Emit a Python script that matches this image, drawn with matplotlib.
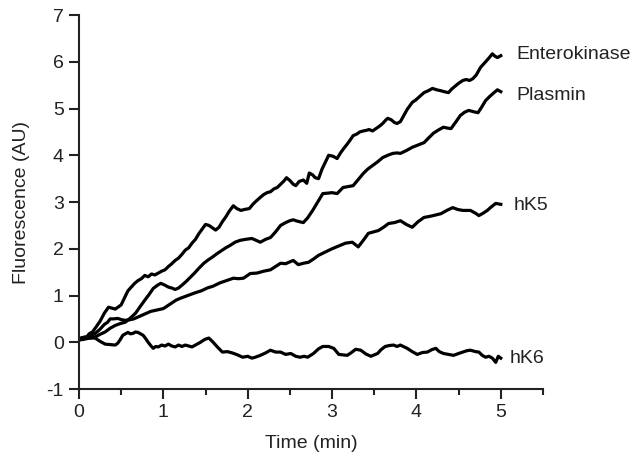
import matplotlib
matplotlib.use("Agg")
import matplotlib.pyplot as plt
from matplotlib.ticker import MultipleLocator

ek_t = [0.00,0.04,0.08,0.12,0.16,0.20,0.25,0.30,0.35,0.39,0.43,0.47,0.50,0.54,0.58,0.62,0.66,0.70,0.74,0.78,
        0.82,0.86,0.90,0.94,0.98,1.02,1.06,1.10,1.14,1.18,1.22,1.26,1.30,1.34,1.38,1.42,1.46,1.50,1.54,1.58,
        1.62,1.66,1.70,1.74,1.78,1.83,1.87,1.92,1.96,2.02,2.06,2.10,2.15,2.19,2.23,2.27,2.31,2.35,2.39,2.43,
        2.46,2.50,2.54,2.57,2.61,2.66,2.70,2.73,2.77,2.80,2.84,2.88,2.92,2.96,3.01,3.06,3.10,3.14,3.18,3.22,
        3.25,3.29,3.33,3.37,3.40,3.44,3.48,3.52,3.56,3.60,3.64,3.66,3.70,3.74,3.77,3.81,3.85,3.89,3.95,3.99,
        4.04,4.09,4.14,4.19,4.24,4.29,4.33,4.38,4.42,4.46,4.50,4.55,4.59,4.63,4.67,4.71,4.76,4.80,4.85,4.90,
        4.93,4.96,5.00]
ek_y = [0.05,0.10,0.08,0.18,0.22,0.32,0.45,0.62,0.75,0.73,0.71,0.76,0.80,0.95,1.10,1.18,1.26,1.32,1.36,1.43,
        1.40,1.46,1.44,1.48,1.52,1.55,1.62,1.68,1.75,1.80,1.88,1.97,2.02,2.12,2.20,2.32,2.42,2.52,2.50,2.45,
        2.40,2.46,2.58,2.68,2.80,2.92,2.86,2.82,2.84,2.86,2.95,3.02,3.10,3.16,3.20,3.22,3.28,3.31,3.38,3.45,
        3.52,3.46,3.38,3.35,3.44,3.47,3.40,3.62,3.58,3.52,3.50,3.70,3.85,4.00,3.98,3.93,4.05,4.15,4.24,4.34,
        4.42,4.45,4.50,4.52,4.53,4.55,4.52,4.57,4.62,4.68,4.76,4.79,4.76,4.70,4.68,4.72,4.85,4.98,5.13,5.18,
        5.26,5.34,5.38,5.43,5.40,5.38,5.36,5.34,5.42,5.48,5.54,5.60,5.62,5.60,5.64,5.72,5.88,5.96,6.06,6.17,
        6.12,6.09,6.13]

pl_t = [0.00,0.05,0.10,0.15,0.20,0.25,0.31,0.37,0.43,0.49,0.55,0.61,0.67,0.72,0.78,0.83,0.88,0.93,0.97,1.02,
        1.06,1.10,1.14,1.18,1.22,1.27,1.32,1.37,1.42,1.48,1.53,1.58,1.64,1.69,1.74,1.79,1.85,1.91,1.97,2.05,
        2.10,2.15,2.21,2.27,2.33,2.39,2.45,2.50,2.54,2.57,2.61,2.66,2.71,2.77,2.83,2.89,2.95,3.00,3.06,3.13,
        3.19,3.25,3.31,3.37,3.42,3.48,3.54,3.60,3.66,3.72,3.77,3.81,3.88,3.95,4.02,4.09,4.15,4.20,4.26,4.32,
        4.37,4.41,4.47,4.52,4.57,4.62,4.68,4.73,4.78,4.82,4.87,4.92,4.96,5.00]
pl_y = [0.05,0.06,0.08,0.10,0.12,0.17,0.22,0.30,0.36,0.40,0.43,0.52,0.62,0.75,0.90,1.02,1.15,1.22,1.26,1.22,
        1.18,1.16,1.13,1.16,1.22,1.30,1.39,1.48,1.58,1.69,1.76,1.82,1.90,1.96,2.02,2.07,2.14,2.18,2.20,2.22,
        2.18,2.14,2.20,2.24,2.36,2.50,2.56,2.60,2.62,2.60,2.58,2.56,2.66,2.82,3.00,3.18,3.19,3.20,3.18,3.31,
        3.33,3.35,3.48,3.61,3.70,3.78,3.86,3.95,4.00,4.04,4.05,4.04,4.10,4.17,4.22,4.27,4.38,4.47,4.54,4.60,
        4.58,4.57,4.72,4.85,4.92,4.96,4.93,4.91,5.05,5.17,5.26,5.34,5.40,5.36]

k5_t = [0.00,0.05,0.10,0.15,0.20,0.25,0.30,0.34,0.37,0.41,0.46,0.51,0.55,0.60,0.65,0.70,0.75,0.80,0.85,0.90,
        0.95,1.00,1.05,1.10,1.15,1.20,1.26,1.32,1.38,1.45,1.52,1.59,1.67,1.75,1.83,1.89,1.95,2.03,2.11,2.19,
        2.27,2.33,2.39,2.45,2.50,2.54,2.60,2.66,2.72,2.78,2.84,2.92,3.00,3.08,3.16,3.24,3.31,3.37,3.43,3.49,
        3.55,3.61,3.67,3.74,3.81,3.88,3.95,4.02,4.09,4.15,4.20,4.29,4.36,4.43,4.49,4.55,4.64,4.70,4.74,4.79,
        4.84,4.89,4.94,5.00]
k5_y = [0.08,0.10,0.12,0.14,0.20,0.28,0.38,0.43,0.50,0.50,0.51,0.48,0.47,0.48,0.50,0.54,0.58,0.62,0.66,0.68,
        0.70,0.72,0.78,0.84,0.90,0.94,0.98,1.02,1.06,1.10,1.16,1.20,1.27,1.32,1.37,1.36,1.37,1.47,1.48,1.52,
        1.55,1.62,1.69,1.68,1.72,1.75,1.66,1.69,1.71,1.78,1.86,1.93,2.00,2.06,2.12,2.14,2.04,2.18,2.33,2.36,
        2.39,2.46,2.54,2.56,2.60,2.52,2.46,2.58,2.67,2.69,2.71,2.75,2.82,2.88,2.84,2.82,2.82,2.76,2.71,2.76,
        2.82,2.90,2.97,2.95]

k6_t = [0.00,0.04,0.07,0.12,0.19,0.25,0.31,0.37,0.43,0.46,0.49,0.52,0.55,0.58,0.61,0.64,0.67,0.70,0.73,0.76,
        0.79,0.82,0.85,0.88,0.91,0.94,0.98,1.02,1.06,1.10,1.14,1.18,1.22,1.26,1.30,1.34,1.39,1.44,1.49,1.54,
        1.59,1.64,1.70,1.76,1.82,1.88,1.94,2.00,2.05,2.09,2.15,2.21,2.27,2.33,2.39,2.45,2.51,2.57,2.62,2.67,
        2.71,2.78,2.84,2.89,2.96,3.02,3.08,3.13,3.18,3.23,3.28,3.34,3.40,3.46,3.54,3.58,3.63,3.68,3.73,3.77,
        3.81,3.89,3.95,4.01,4.07,4.13,4.18,4.23,4.27,4.32,4.38,4.44,4.50,4.55,4.60,4.64,4.70,4.74,4.78,4.82,
        4.86,4.90,4.94,4.97,5.00]
k6_y = [0.04,0.10,0.11,0.09,0.09,0.02,-0.04,-0.05,-0.06,-0.02,0.06,0.15,0.18,0.21,0.18,0.19,0.22,0.21,0.18,0.15,
        0.08,0.00,-0.07,-0.13,-0.09,-0.10,-0.06,-0.08,-0.04,-0.08,-0.10,-0.06,-0.09,-0.06,-0.08,-0.10,-0.05,0.00,0.06,0.09,
        0.00,-0.10,-0.21,-0.20,-0.23,-0.27,-0.32,-0.30,-0.34,-0.32,-0.28,-0.23,-0.17,-0.21,-0.21,-0.26,-0.24,-0.30,-0.32,-0.30,
        -0.32,-0.24,-0.14,-0.09,-0.09,-0.13,-0.26,-0.27,-0.28,-0.22,-0.15,-0.17,-0.25,-0.30,-0.24,-0.16,-0.09,-0.07,-0.06,-0.09,
        -0.06,-0.13,-0.20,-0.26,-0.22,-0.21,-0.16,-0.13,-0.20,-0.24,-0.26,-0.28,-0.24,-0.21,-0.18,-0.17,-0.20,-0.21,-0.28,-0.32,
        -0.30,-0.34,-0.43,-0.30,-0.34]

series = [
    ("Enterokinase", ek_t, ek_y, 5.18, 6.15),
    ("Plasmin", pl_t, pl_y, 5.18, 5.28),
    ("hK5", k5_t, k5_y, 5.15, 2.93),
    ("hK6", k6_t, k6_y, 5.10, -0.34),
]

x_ticks = [0, 1, 2, 3, 4, 5]
y_ticks = [-1, 0, 1, 2, 3, 4, 5, 6, 7]

plt.rcParams['font.family'] = ['Liberation Sans', 'DejaVu Sans']
plt.rcParams['axes.unicode_minus'] = False
fig = plt.figure(figsize=(6.4, 4.62), dpi=100)
ax = fig.add_axes([0.1234, 0.158, 0.725, 0.8095])

txtcol = '#222222'
for name, t, y, lx, ly in series:
    ax.plot(t, y, color='black', linewidth=2.3, solid_joinstyle='round')
    ax.text(lx, ly, name, ha='left', va='center', fontsize=14, color=txtcol, clip_on=False)

ax.set_xlim(0, 5.5)
ax.set_ylim(-1, 7)
ax.set_xticks(x_ticks)
ax.set_yticks(y_ticks)
ax.xaxis.set_minor_locator(MultipleLocator(0.5))
ax.spines['top'].set_visible(False)
ax.spines['right'].set_visible(False)
for s in ['left', 'bottom']:
    ax.spines[s].set_linewidth(1.5)
    ax.spines[s].set_color('#222222')
ax.tick_params(axis='both', which='major', direction='out', length=7, width=1.5,
               labelsize=14, labelcolor=txtcol, color='#222222', pad=4)
ax.tick_params(axis='x', which='minor', direction='out', length=4, width=1.5, color='#222222')
ax.set_xlabel('Time (min)', fontsize=14, color=txtcol, labelpad=10)
ax.set_ylabel('Fluorescence (AU)', fontsize=14, color=txtcol, labelpad=12)

fig.savefig('out.png', dpi=100)
